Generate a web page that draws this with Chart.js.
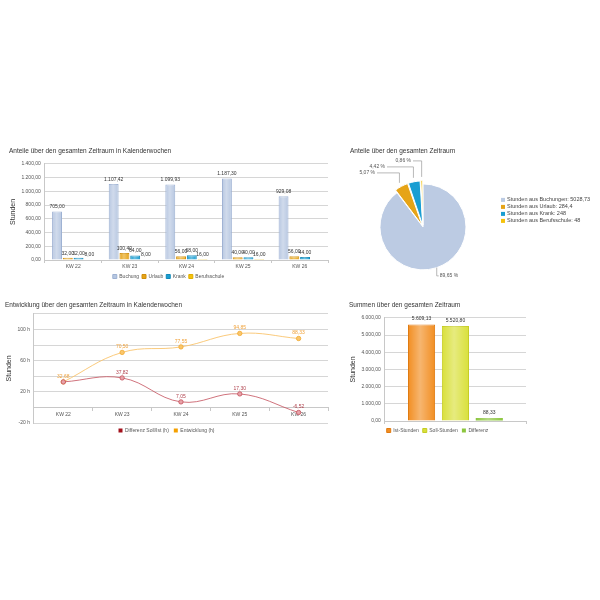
<!DOCTYPE html>
<html>
<head>
<meta charset="utf-8">
<script src="https://cdn.jsdelivr.net/npm/chart.js@4.4.1/dist/chart.umd.min.js"></script>
<style>
  html, body { margin: 0; padding: 0; background: #fff; }
  body { width: 600px; height: 600px; position: relative; overflow: hidden; }
  canvas { position: absolute; }
</style>
</head>
<body>
<canvas id="weeks" width="335" height="151" style="left:0;top:140px"></canvas>
<canvas id="shares" width="260" height="160" style="left:340px;top:140px"></canvas>
<canvas id="trend" width="335" height="150" style="left:0;top:295px"></canvas>
<canvas id="totals" width="200" height="150" style="left:340px;top:295px"></canvas>
<script>
// --- data ---
const weeks = ["KW 22", "KW 23", "KW 24", "KW 25", "KW 26"];
const buchung = [705.00, 1107.42, 1099.93, 1187.30, 929.08];
const urlaub = [32.00, 100.40, 56.00, 40.00, 56.00];
const krank = [32.00, 64.00, 68.00, 40.00, 44.00];
const berufsschule = [8.00, 8.00, 16.00, 16.00, 0];

const shareLabels = ["Stunden aus Buchungen", "Stunden aus Urlaub", "Stunden aus Krank", "Stunden aus Berufsschule"];
const shareValues = [5028.73, 284.4, 248, 48];

const differenz = [32.68, 37.82, 7.05, 17.30, -6.52];
const entwicklung = [32.68, 70.50, 77.55, 94.85, 88.33];

const totalLabels = ["Ist-Stunden", "Soll-Stunden", "Differenz"];
const totalValues = [5609.13, 5520.80, 88.33];

// --- helpers ---
Chart.defaults.font.family = "'Liberation Sans', Arial, sans-serif";
Chart.defaults.font.size = 5;
Chart.defaults.color = "#555";
Chart.defaults.animation = false;

const gridColor = "#d6d6d6";
const titleFont = { size: 6.5, weight: "normal" };

// german number format, e.g. 1.107,42
function fmt(v) {
    const neg = v < 0;
    let [i, d] = Math.abs(v).toFixed(2).split(".");
    i = i.replace(/\B(?=(\d{3})+(?!\d))/g, ".");
    return (neg ? "-" : "") + i + "," + d;
}

// small value labels above bars / points
const valueLabels = {
    id: "valueLabels",
    afterDatasetsDraw(chart, args, opts) {
        const ctx = chart.ctx;
        ctx.save();
        ctx.font = "5px 'Liberation Sans', Arial, sans-serif";
        ctx.textAlign = "center";
        ctx.textBaseline = "bottom";
        chart.data.datasets.forEach((ds, di) => {
            const meta = chart.getDatasetMeta(di);
            meta.data.forEach((el, i) => {
                const v = ds.data[i];
                if (v === 0 && opts.skipZero) return;
                if (opts.skip && opts.skip(di, i)) return;
                ctx.fillStyle = ds.labelColor || "#333";
                ctx.fillText(fmt(v), el.x, el.y - (opts.gap || 2));
            });
        });
        ctx.restore();
    }
};

// light stripe over the bars so they look round
const barShine = {
    id: "barShine",
    afterDatasetsDraw(chart) {
        const ctx = chart.ctx;
        ctx.save();
        chart.data.datasets.forEach((ds, di) => {
            chart.getDatasetMeta(di).data.forEach(el => {
                const { x, y, base, width } = el.getProps(["x", "y", "base", "width"], true);
                const g = ctx.createLinearGradient(x - width / 2, 0, x + width / 2, 0);
                g.addColorStop(0, "rgba(255,255,255,0)");
                g.addColorStop(0.45, "rgba(255,255,255,0.35)");
                g.addColorStop(1, "rgba(255,255,255,0)");
                ctx.fillStyle = g;
                ctx.fillRect(x - width / 2 + 1, Math.min(y, base), width - 2, Math.abs(base - y));
            });
        });
        ctx.restore();
    }
};

// 1) Anteile in Kalenderwochen
new Chart(document.getElementById("weeks"), {
    type: "bar",
    data: {
        labels: weeks,
        datasets: [
            { label: "Buchung", data: buchung, backgroundColor: "#b7c7e1", borderColor: "#9db1d3", borderWidth: 1 },
            { label: "Urlaub", data: urlaub, backgroundColor: "#e6a417", borderColor: "#d08f0c", borderWidth: 1 },
            { label: "Krank", data: krank, backgroundColor: "#1a9ed2", borderColor: "#1188b8", borderWidth: 1 },
            { label: "Berufsschule", data: berufsschule, backgroundColor: "#f5c20c", borderColor: "#e0ae00", borderWidth: 1 }
        ]
    },
    options: {
        responsive: false,
        categoryPercentage: 0.76,
        barPercentage: 0.92,
        layout: { padding: { left: 9, right: 7, bottom: 2 } },
        plugins: {
            title: { display: true, text: "Anteile über den gesamten Zeitraum in Kalenderwochen", align: "start", color: "#333", font: titleFont, padding: { top: 7, bottom: 9 } },
            legend: { position: "bottom", labels: { boxWidth: 4, boxHeight: 4, padding: 3, font: { size: 5 } } },
            tooltip: { enabled: false },
            valueLabels: { skipZero: true, gap: 2 }
        },
        scales: {
            x: {
                grid: { drawOnChartArea: false, tickLength: 3, color: "#c8c8c8" },
                border: { color: "#c8c8c8" },
                ticks: { padding: 1 }
            },
            y: {
                min: 0, max: 1400,
                ticks: { stepSize: 200, callback: v => fmt(v), padding: 4 },
                grid: { color: gridColor, drawTicks: false },
                border: { color: "#c8c8c8" },
                title: { display: true, text: "Stunden", color: "#333", font: { size: 7 }, padding: 0 }
            }
        }
    },
    plugins: [barShine, valueLabels]
});

// 2) Anteile über den gesamten Zeitraum (pie)
const shareTotal = shareValues.reduce((a, b) => a + b, 0);
const pieLabelDy = [49, -54, -60, -66];   // label rows relative to centre
const pieTextX = [3, -48, -38, -12];      // text anchors

const pieLabels = {
    id: "pieLabels",
    afterDatasetsDraw(chart) {
        const ctx = chart.ctx;
        const meta = chart.getDatasetMeta(0);
        ctx.save();
        ctx.font = "5px 'Liberation Sans', Arial, sans-serif";
        ctx.textBaseline = "middle";
        ctx.strokeStyle = "#999";
        ctx.lineWidth = 0.7;
        meta.data.forEach((arc, i) => {
            const { x, y, startAngle, endAngle, outerRadius } = arc.getProps(["x", "y", "startAngle", "endAngle", "outerRadius"], true);
            const mid = (startAngle + endAngle) / 2;
            const off = arc.options.offset || 0;
            const r = outerRadius + off;
            const px = x + Math.cos(mid) * r;
            const py = y + Math.sin(mid) * r;
            const ly = y + pieLabelDy[i];
            const right = pieTextX[i] > 0;
            const tx = right ? px + pieTextX[i] : x + pieTextX[i];
            ctx.beginPath();
            ctx.moveTo(px, py);
            ctx.lineTo(px, ly);
            ctx.lineTo(right ? tx - 1 : tx + 2, ly);
            ctx.stroke();
            ctx.fillStyle = "#555";
            ctx.textAlign = right ? "left" : "right";
            const pct = (shareValues[i] / shareTotal * 100).toFixed(2).replace(".", ",") + " %";
            ctx.fillText(pct, tx, ly);
        });
        ctx.restore();
    },
    afterDraw(chart) {
        // legend on the right
        const ctx = chart.ctx;
        const area = chart.chartArea;
        const ds = chart.data.datasets[0];
        const cy = (area.top + area.bottom) / 2;
        ctx.save();
        ctx.font = "5.5px 'Liberation Sans', Arial, sans-serif";
        ctx.textBaseline = "middle";
        ctx.textAlign = "left";
        chart.data.labels.forEach((lab, i) => {
            const yy = cy - 27 + i * 7;
            ctx.fillStyle = ds.backgroundColor[i];
            ctx.fillRect(area.right + 5, yy - 2, 4, 4);
            ctx.fillStyle = "#444";
            ctx.fillText(lab + ": " + String(shareValues[i]).replace(".", ","), area.right + 11, yy);
        });
        ctx.restore();
    }
};

new Chart(document.getElementById("shares"), {
    type: "pie",
    data: {
        labels: shareLabels,
        datasets: [{
            data: shareValues,
            backgroundColor: ["#bccbe3", "#e6a417", "#1a9ed2", "#f5c20c"],
            borderColor: "#fff",
            borderWidth: 1,
            offset: [0, 7, 7, 7],
            radius: 43
        }]
    },
    options: {
        responsive: false,
        layout: { padding: { left: 10, right: 104, bottom: 7 } },
        plugins: {
            title: { display: true, text: "Anteile über den gesamten Zeitraum", align: "start", color: "#333", font: titleFont, padding: { top: 7, bottom: 6 } },
            legend: { display: false },
            tooltip: { enabled: false }
        }
    },
    plugins: [pieLabels]
});

// 3) Entwicklung (line)
new Chart(document.getElementById("trend"), {
    type: "line",
    data: {
        labels: weeks,
        datasets: [
            {
                label: "Differenz Soll/Ist (h)", data: differenz,
                backgroundColor: "#a3111c", borderColor: "rgba(196,80,92,0.8)", borderWidth: 1,
                pointBackgroundColor: "#e8a3a9", pointBorderColor: "#c4505c", pointRadius: 2.2, pointBorderWidth: 0.8,
                tension: 0.4, labelColor: "#b0404c"
            },
            {
                label: "Entwicklung (h)", data: entwicklung,
                backgroundColor: "#f5a000", borderColor: "rgba(250,196,110,0.9)", borderWidth: 1,
                pointBackgroundColor: "#f9c66c", pointBorderColor: "#f2a82c", pointRadius: 2.2, pointBorderWidth: 0.8,
                tension: 0.4, labelColor: "#f0a23a"
            }
        ]
    },
    options: {
        responsive: false,
        layout: { padding: { left: 5, right: 7, bottom: 2 } },
        plugins: {
            title: { display: true, text: "Entwicklung über den gesamten Zeitraum in Kalenderwochen", align: "start", color: "#333", font: titleFont, padding: { top: 6, bottom: 5 } },
            legend: {
                position: "bottom",
                labels: {
                    boxWidth: 4, boxHeight: 4, padding: 5, font: { size: 5 },
                    generateLabels: chart => Chart.defaults.plugins.legend.labels.generateLabels(chart)
                        .map(l => Object.assign(l, { strokeStyle: l.fillStyle, lineWidth: 0 }))
                }
            },
            tooltip: { enabled: false },
            valueLabels: { gap: 3, skip: (di, i) => di === 0 && differenz[i] === entwicklung[i] }
        },
        scales: {
            x: {
                position: { y: 0 },
                offset: true,
                grid: { drawOnChartArea: false, offset: true, tickLength: 3, color: "#c8c8c8" },
                border: { color: "#c8c8c8" },
                ticks: { padding: 1 }
            },
            y: {
                min: -20, max: 120,
                ticks: { stepSize: 20, callback: v => ((v + 20) % 40 === 0 ? v + " h" : ""), padding: 4 },
                grid: { color: gridColor, drawTicks: false },
                border: { color: "#c8c8c8" },
                title: { display: true, text: "Stunden", color: "#333", font: { size: 7 }, padding: 0 }
            }
        }
    },
    plugins: [valueLabels]
});

// 4) Summen (bars)
new Chart(document.getElementById("totals"), {
    type: "bar",
    data: {
        labels: [""],
        datasets: [
            { label: totalLabels[0], data: [totalValues[0]], backgroundColor: "#f28e22", borderColor: "#e07a10", borderWidth: 1 },
            { label: totalLabels[1], data: [totalValues[1]], backgroundColor: "#d9e03a", borderColor: "#c5cc22", borderWidth: 1 },
            { label: totalLabels[2], data: [totalValues[2]], backgroundColor: "#8cc63f", borderColor: "#78b02e", borderWidth: 0, minBarLength: 3 }
        ]
    },
    options: {
        responsive: false,
        categoryPercentage: 0.72,
        barPercentage: 0.8,
        layout: { padding: { left: 9, right: 14, bottom: 2 } },
        plugins: {
            title: { display: true, text: "Summen über den gesamten Zeitraum", align: "start", color: "#333", font: titleFont, padding: { top: 6, bottom: 9 } },
            legend: { position: "bottom", labels: { boxWidth: 4, boxHeight: 4, padding: 4, font: { size: 5 } } },
            tooltip: { enabled: false },
            valueLabels: { gap: 3 }
        },
        scales: {
            x: {
                grid: { drawOnChartArea: false, tickLength: 3, color: "#c8c8c8" },
                border: { color: "#c8c8c8" },
                ticks: { display: false }
            },
            y: {
                min: 0, max: 6000,
                ticks: { stepSize: 1000, callback: v => fmt(v), padding: 4 },
                grid: { color: gridColor, drawTicks: false },
                border: { color: "#c8c8c8" },
                title: { display: true, text: "Stunden", color: "#333", font: { size: 7 }, padding: 0 }
            }
        }
    },
    plugins: [barShine, valueLabels]
});
</script>
</body>
</html>
